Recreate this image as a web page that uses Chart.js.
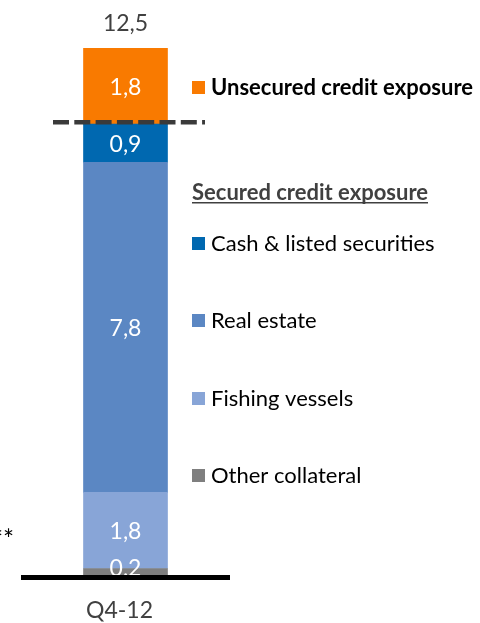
<!DOCTYPE html>
<html>
<head>
<meta charset="utf-8">
<script src="https://cdn.jsdelivr.net/npm/chart.js@4/dist/chart.umd.min.js"></script>
<style>
  html, body { margin: 0; padding: 0; background: #ffffff; }
  #wrap { position: relative; width: 480px; height: 623px; }
</style>
</head>
<body>
<div id="wrap"><canvas id="c" width="480" height="623"></canvas></div>
<script>
// Credit exposure by collateral type, bottom to top of the stack
const categories = ['Q4-12'];
const seriesNames = ['Other collateral', 'Fishing vessels', 'Real estate', 'Cash & listed securities', 'Unsecured credit exposure'];
const otherCollateral = [0.2];
const fishingVessels = [1.8];
const realEstate = [7.8];
const cashListed = [0.9];
const unsecured = [1.8];
const totals = [12.5];
const securedTitle = 'Secured credit exposure';
const footnoteMark = '**';

const colors = ['#7f7f7f', '#88a5d7', '#5b87c3', '#0068b0', '#f97a00'];
const FONT = 'Lato, "Open Sans", sans-serif';

const fmt = v => v.toFixed(1).replace('.', ',');

const seriesData = [otherCollateral, fishingVessels, realEstate, cashListed, unsecured];

const datasets = seriesNames.map((name, i) => ({
  label: name,
  data: seriesData[i],
  backgroundColor: colors[i],
  borderWidth: 0,
  barThickness: 84
}));

// Draws segment values, the total, the unsecured/secured divider, baseline and side legend
const decorations = {
  id: 'decorations',
  afterDatasetsDraw(chart) {
    const { ctx, chartArea, scales } = chart;
    const y = scales.y;
    ctx.save();

    // values inside each segment
    ctx.font = '23px ' + FONT;
    ctx.fillStyle = '#ffffff';
    ctx.textAlign = 'center';
    ctx.textBaseline = 'middle';
    chart.data.datasets.forEach((ds, i) => {
      const el = chart.getDatasetMeta(i).data[0];
      const mid = Math.min((el.y + el.base) / 2, el.base - 9);
      ctx.fillText(fmt(ds.data[0]), el.x, mid + 1);
    });

    const top = chart.getDatasetMeta(4).data[0];
    const cx = top.x;

    // total above the stack
    ctx.fillStyle = '#404040';
    ctx.fillText(fmt(totals[0]), cx, top.y - 24);

    // divider between secured and unsecured parts
    const securedSum = otherCollateral[0] + fishingVessels[0] + realEstate[0] + cashListed[0];
    const dy = y.getPixelForValue(securedSum) - 2;
    ctx.strokeStyle = '#3a3a3a';
    ctx.lineWidth = 4.5;
    ctx.setLineDash([16, 5.3]);
    ctx.beginPath();
    ctx.moveTo(53, dy);
    ctx.lineTo(205, dy);
    ctx.stroke();
    ctx.setLineDash([]);

    // baseline
    const by = y.getPixelForValue(0);
    ctx.fillStyle = '#000000';
    ctx.fillRect(chartArea.left, by - 2, chartArea.right - chartArea.left, 5);

    // category label
    ctx.fillStyle = '#404040';
    ctx.font = '23px ' + FONT;
    ctx.fillText(categories[0], cx - 6, by + 34);

    // footnote mark at the left edge
    ctx.textAlign = 'right';
    ctx.fillStyle = '#000000';
    ctx.font = '26px ' + FONT;
    ctx.fillText(footnoteMark, 14, by - 36);

    // legend on the right
    ctx.textAlign = 'left';
    const lx = 192, tx = 211;
    const sq = 13;
    const item = (idx, cy, bold) => {
      ctx.fillStyle = colors[idx];
      ctx.fillRect(lx, cy - 6, sq, sq);
      ctx.fillStyle = '#000000';
      ctx.font = (bold ? 'bold ' : '') + '22px ' + FONT;
      ctx.fillText(seriesNames[idx], tx, cy + 1);
    };
    item(4, 87, true);

    ctx.font = 'bold 22px ' + FONT;
    ctx.fillStyle = '#404040';
    ctx.fillText(securedTitle, lx, 193);
    const w = ctx.measureText(securedTitle).width;
    ctx.fillRect(lx, 202, w, 1.5);

    item(3, 243, false);
    item(2, 320, false);
    item(1, 398, false);
    item(0, 475, false);

    ctx.restore();
  }
};

new Chart(document.getElementById('c'), {
  type: 'bar',
  data: { labels: categories, datasets },
  options: {
    responsive: false,
    animation: false,
    layout: { padding: { top: 48, bottom: 46, left: 21, right: 250 } },
    plugins: { legend: { display: false }, tooltip: { enabled: false } },
    scales: {
      x: { stacked: true, display: false },
      y: { stacked: true, display: false, min: 0, max: 12.5 }
    }
  },
  plugins: [decorations]
});
</script>
</body>
</html>
